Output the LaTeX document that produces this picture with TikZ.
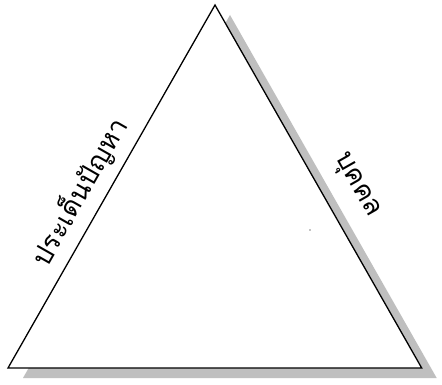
\documentclass[tikz,border=0pt]{standalone}
\usepackage{fontspec}
\newfontfamily\thaifont[Script=Thai]{Loma}
\begin{document}
\begin{tikzpicture}[x=1pt,y=-1pt,
  edge/.style={draw=black,line width=1.3pt,line join=miter},
  shadow/.style={fill=black!25,draw=none},
  label/.style={font=\thaifont\fontsize{27}{30}\selectfont,inner sep=0pt}]
\fill[white] (0,0) rectangle (442,385);
\useasboundingbox (0,0) rectangle (442,385);
\coordinate (top) at (215,5);
\coordinate (bl) at (8,368);
\coordinate (br) at (421.7,368);
% shadow
\fill[shadow] ([shift={(15,10)}]top) -- ([shift={(15,10)}]br) -- ([shift={(15,10)}]bl) -- cycle;
% triangle
\filldraw[edge,fill=white] (top) -- (br) -- (bl) -- cycle;
% labels
\node[label,rotate=60.3] (issue) at (80,192) {ประเด็นปัญหา};
\node[label,rotate=-60.4] (person) at (356,186) {บุคคล};
% small dot
\fill (310,230) circle (0.7);
\end{tikzpicture}
\end{document}
